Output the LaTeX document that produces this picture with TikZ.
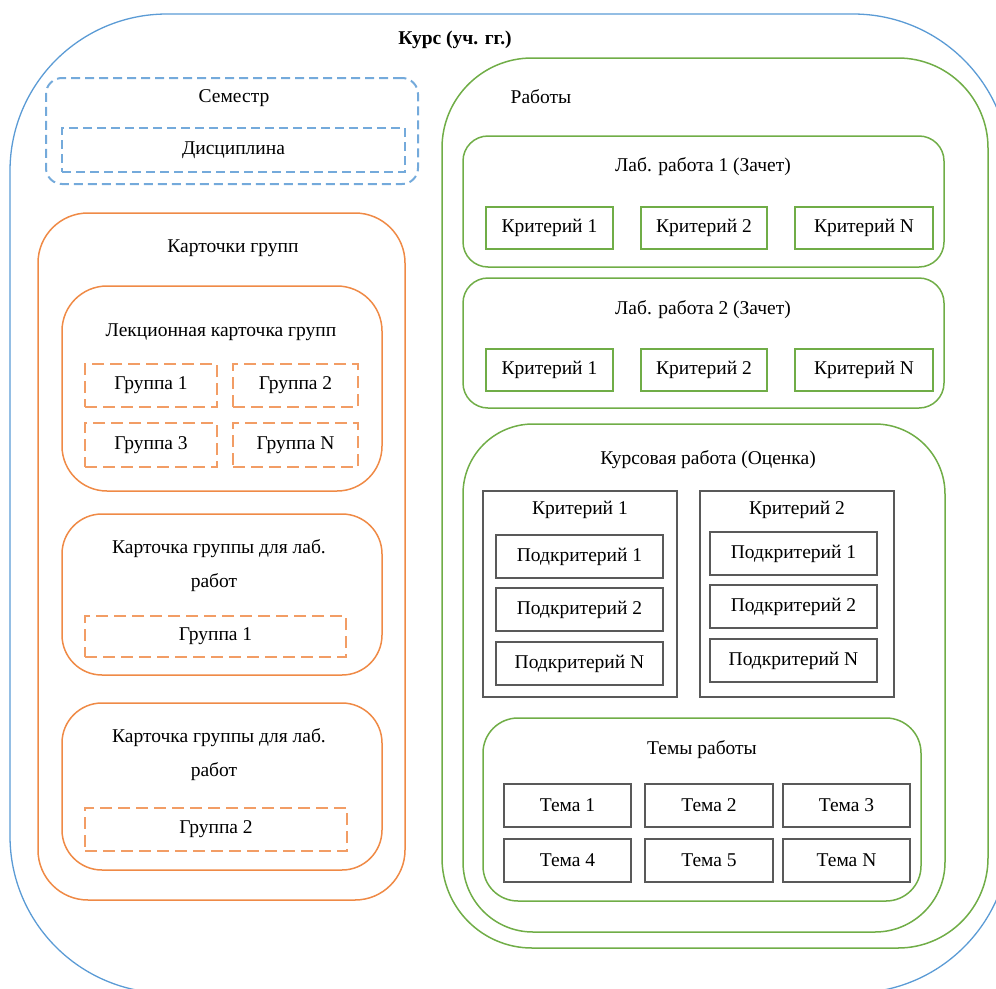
\documentclass[tikz,border=0pt]{standalone}
\usepackage{fontspec}
\setmainfont{Liberation Serif}
\usetikzlibrary{fit}
\definecolor{cblue}{HTML}{5B9BD5}
\definecolor{corange}{HTML}{ED7D31}
\definecolor{cgreen}{HTML}{70AD47}
\definecolor{cgray}{HTML}{595959}
\tikzset{
  base/.style={rectangle, inner sep=0pt, outer sep=0pt},
  lbl/.style={inner sep=0pt, font=\fontsize{19.5}{22}\selectfont},
  txt/.style={label={[lbl]center:#1}},
  outerblue/.style={base, draw=cblue, line width=1.3pt, rounded corners=157pt},
  bluedash/.style={base, draw=cblue!85, line width=2pt, dash pattern=on 9pt off 5pt},
  orangebox/.style={base, draw=corange!90, line width=1.5pt},
  orangedash/.style={base, draw=corange!75, line width=2.2pt, dash pattern=on 12pt off 6pt},
  greenbox/.style={base, draw=cgreen, line width=1.5pt},
  graybox/.style={base, draw=cgray, line width=1.6pt}
}
\begin{document}
\begin{tikzpicture}[x=1pt, y=-1pt]
\useasboundingbox (0,0) rectangle (996,988);
\clip (0,0) rectangle (996,988);
% outer course
\node[outerblue, fit={(10,14) (1010,993)}] (kurs) {};
\node[lbl, font=\fontsize{19.5}{22}\selectfont\bfseries] (kursT) at (455,40) {Курс (уч. гг.)};
% semester
\node[bluedash, rounded corners=16pt, fit={(46,78) (418,184)}] (sem) {};
\node[lbl] (semT) at (234,98) {Семестр};
\node[bluedash, fit={(62,128) (405,172)}, txt=Дисциплина] (disc) {};
% group cards
\node[orangebox, rounded corners=50pt, fit={(38,213) (405,900)}] (cards) {};
\node[lbl] (cardsT) at (233,248) {Карточки групп};
\node[orangebox, rounded corners=45pt, fit={(62,286) (382,491)}] (lect) {};
\node[lbl] (lectT) at (221,332) {Лекционная карточка групп};
\node[orangedash, fit={(85,364) (217,407)}, txt={Группа 1}] (g1) {};
\node[orangedash, fit={(233,364) (358,407)}, txt={Группа 2}] (g2) {};
\node[orangedash, fit={(85,423) (217,467)}, txt={Группа 3}] (g3) {};
\node[orangedash, fit={(233,423) (358,467)}, txt={Группа N}] (gN) {};
\node[orangebox, rounded corners=40pt, fit={(62,514) (382,675)}] (lab1c) {};
\node[lbl] (lab1cT1) at (219,549) {Карточка группы для лаб.};
\node[lbl] (lab1cT2) at (214,583) {работ};
\node[orangedash, fit={(85,616) (346,657)}, txt={Группа 1}] (lg1) {};
\node[orangebox, rounded corners=40pt, fit={(62,703) (382,870)}] (lab2c) {};
\node[lbl] (lab2cT1) at (219,738) {Карточка группы для лаб.};
\node[lbl] (lab2cT2) at (214,772) {работ};
\node[orangedash, fit={(85,808) (347,851)}, txt={Группа 2}] (lg2) {};
% works
\node[greenbox, rounded corners=90pt, fit={(442,58) (988,948)}] (works) {};
\node[lbl] (worksT) at (541,97) {Работы};
\node[greenbox, rounded corners=25pt, fit={(463,136) (944,267)}] (lw1) {};
\node[lbl] (lw1T) at (703,167) {Лаб. работа 1 (Зачет)};
\node[greenbox, fit={(486,207) (613,249)}, txt={Критерий 1}] (lw1k1) {};
\node[greenbox, fit={(641,207) (767,249)}, txt={Критерий 2}] (lw1k2) {};
\node[greenbox, fit={(795,207) (933,249)}, txt={Критерий N}] (lw1kN) {};
\node[greenbox, rounded corners=25pt, fit={(463,278) (944,408)}] (lw2) {};
\node[lbl] (lw2T) at (703,310) {Лаб. работа 2 (Зачет)};
\node[greenbox, fit={(486,349) (613,391)}, txt={Критерий 1}] (lw2k1) {};
\node[greenbox, fit={(641,349) (767,391)}, txt={Критерий 2}] (lw2k2) {};
\node[greenbox, fit={(795,349) (933,391)}, txt={Критерий N}] (lw2kN) {};
% course work
\node[greenbox, rounded corners=70pt, fit={(463,424) (945,932)}] (cw) {};
\node[lbl] (cwT) at (708,460) {Курсовая работа (Оценка)};
\node[graybox, fit={(483,491) (677,697)}] (ck1) {};
\node[lbl] (ck1T) at (580,510) {Критерий 1};
\node[graybox, fit={(496,535) (663,578)}, txt={Подкритерий 1}] (s11) {};
\node[graybox, fit={(496,588) (663,631)}, txt={Подкритерий 2}] (s12) {};
\node[graybox, fit={(496,642) (663,685)}, txt={Подкритерий N}] (s1N) {};
\node[graybox, fit={(700,491) (894,697)}] (ck2) {};
\node[lbl] (ck2T) at (797,510) {Критерий 2};
\node[graybox, fit={(710,532) (877,575)}, txt={Подкритерий 1}] (s21) {};
\node[graybox, fit={(710,585) (877,628)}, txt={Подкритерий 2}] (s22) {};
\node[graybox, fit={(710,639) (877,682)}, txt={Подкритерий N}] (s2N) {};
% topics
\node[greenbox, rounded corners=35pt, fit={(483,718) (921,901)}] (topics) {};
\node[lbl] (topicsT) at (702,750) {Темы работы};
\node[graybox, fit={(504,784) (631,827)}, txt={Тема 1}] (t1) {};
\node[graybox, fit={(645,784) (773,827)}, txt={Тема 2}] (t2) {};
\node[graybox, fit={(783,784) (910,827)}, txt={Тема 3}] (t3) {};
\node[graybox, fit={(504,839) (631,882)}, txt={Тема 4}] (t4) {};
\node[graybox, fit={(645,839) (773,882)}, txt={Тема 5}] (t5) {};
\node[graybox, fit={(783,839) (910,882)}, txt={Тема N}] (tN) {};
\end{tikzpicture}
\end{document}
